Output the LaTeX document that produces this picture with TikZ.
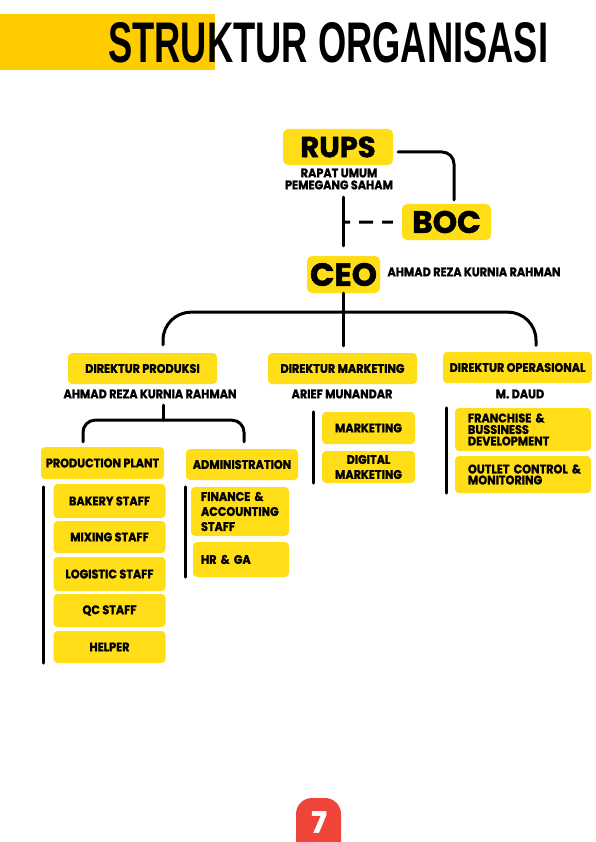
\documentclass[tikz,border=0pt]{standalone}
\usepackage{fontspec}
\usepackage{graphicx}
\setmainfont{Poppins}
\newfontfamily\boxf{Poppins}[FakeStretch=0.9, FakeBold=1.2]
\newfontfamily\bigboxf{Poppins}[FakeBold=1.6]
\newfontfamily\titlef{Liberation Sans}
\usetikzlibrary{calc}
\definecolor{ybox}{HTML}{FFDE17}
\definecolor{ytitle}{HTML}{FFCC00}
\definecolor{pagered}{HTML}{EF4438}
\begin{document}
\begin{tikzpicture}[x=1pt,y=-1pt,
  txt/.style={font=\boxf\bfseries\fontsize{12.5}{12}\selectfont},
  box/.style={txt, fill=ybox, rounded corners=4pt, inner sep=0pt, align=center},
  lbox/.style={box, align=left, inner ysep=0pt},
  lbl/.style={txt, inner sep=0pt, align=center},
  bigbox/.style={fill=ybox, rounded corners=5pt, inner sep=0pt},
  conn/.style={line width=3pt, line cap=round},
  side/.style={line width=3pt, line cap=round},
]
\useasboundingbox (0,0) rectangle (595,842);

% title
\fill[ytitle] (0,14) rectangle (215,70);
\node[anchor=base west, inner sep=0pt, font=\titlef\bfseries] (title) at (108,63) {\resizebox{440pt}{40pt}{STRUKTUR ORGANISASI}};

% top level
\node[bigbox, minimum width=110pt, minimum height=36pt, font=\bigboxf\bfseries\fontsize{29}{29}\selectfont] (rups) at (338,147) {RUPS};
\node[lbl] (rupssub) at (339,179) {RAPAT UMUM\\PEMEGANG SAHAM};
\node[bigbox, minimum width=89pt, minimum height=36pt, font=\bigboxf\bfseries\fontsize{31}{31}\selectfont] (boc) at (446.5,222) {BOC};
\node[bigbox, minimum width=73pt, minimum height=37pt, font=\bigboxf\bfseries\fontsize{32}{32}\selectfont] (ceo) at (343.5,274.5) {CEO};
\node[lbl] (ceoname) at (474,272) {AHMAD REZA KURNIA RAHMAN};

% directors
\node[box, minimum width=149pt, minimum height=31pt] (dp) at (142.5,368.5) {DIREKTUR PRODUKSI};
\node[box, minimum width=149pt, minimum height=31pt] (dm) at (342.5,368.5) {DIREKTUR MARKETING};
\node[box, minimum width=149pt, minimum height=31pt] (do) at (517.5,367.5) {DIREKTUR OPERASIONAL};
\node[lbl] (dpname) at (150,394) {AHMAD REZA KURNIA RAHMAN};
\node[lbl] (dmname) at (342,394) {ARIEF MUNANDAR};
\node[lbl] (doname) at (520,394) {M. DAUD};

% produksi
\node[box, minimum width=123pt, minimum height=32pt] (pp) at (102.5,463) {PRODUCTION PLANT};
\node[box, minimum width=112pt, minimum height=31pt] (ad) at (242,464.5) {ADMINISTRATION};
\node[box, minimum width=112pt, minimum height=34pt] (bakery) at (109.5,501) {BAKERY STAFF};
\node[box, minimum width=112pt, minimum height=32pt] (mixing) at (109.5,537) {MIXING STAFF};
\node[box, minimum width=112pt, minimum height=34pt] (logistic) at (109.5,574) {LOGISTIC STAFF};
\node[box, minimum width=112pt, minimum height=33pt] (qc) at (109.5,610.5) {QC STAFF};
\node[box, minimum width=112pt, minimum height=32pt] (helper) at (109.5,647) {HELPER};
\node[lbox, inner xsep=10pt, text width=78pt, minimum height=49pt, font=\boxf\bfseries\fontsize{12.5}{15}\selectfont] (fin) at (240,511.5) {\mbox{FINANCE \&}\\\mbox{ACCOUNTING}\\\mbox{STAFF}};
\node[lbox, inner xsep=8pt, text width=80pt, minimum height=35pt] (hr) at (241,559.5) {\mbox{HR \& GA}};

% marketing
\node[box, minimum width=93pt, minimum height=32pt] (mkt) at (368.5,428) {MARKETING};
\node[box, minimum width=93pt, minimum height=32pt, font=\boxf\bfseries\fontsize{12.5}{15}\selectfont] (dmk) at (368.5,467) {DIGITAL\\MARKETING};

% operasional
\node[lbox, inner xsep=13pt, text width=110pt, minimum height=43pt, font=\boxf\bfseries\fontsize{12.5}{11.5}\selectfont] (fr) at (523,429.5) {\mbox{FRANCHISE \&}\\\mbox{BUSSINESS}\\\mbox{DEVELOPMENT}};
\node[lbox, inner xsep=13pt, text width=110pt, minimum height=37pt, font=\boxf\bfseries\fontsize{12.5}{11}\selectfont] (out) at (523,474.5) {\mbox{OUTLET CONTROL \&}\\\mbox{MONITORING}};

% connectors
\draw[conn, rounded corners=12pt] ($(rups.east)+(5,5)$) -| ($(boc.north)+(7.5,-4)$);
\draw[conn] ($(rups.south)+(5,32)$) -- ($(ceo.north)+(-0.5,-10)$);
\draw[line width=3pt, dash pattern=on 7pt off 9pt on 14pt off 9pt on 11pt] ($(rups.south)+(5,57)$) -- ($(boc.west)+(-9,0)$);
\draw[conn] ($(ceo.south)+(-0.5,0)$) -- ($(dm.north)+(0.5,-7)$);
\draw[conn, rounded corners=28pt] ($(dp.north)+(20.5,-8)$) |- ($(ceo.south)+(-0.5,19)$) -| ($(do.north)+(18.5,-6.5)$);
\draw[conn] ($(dp.south)+(20.5,21)$) -- ($(dp.south)+(20.5,36)$);
\draw[conn, rounded corners=12pt] ($(pp.north)+(-19.5,-5)$) |- ($(dp.south)+(20.5,36)$) -| ($(ad.north)+(2,-7)$);
\draw[side] ($(bakery.north west)+(-9.5,3)$) -- ($(helper.south west)+(-9.5,0)$);
\draw[side] ($(fin.north west)+(-5,0)$) -- ($(hr.south west)+(-7,0)$);
\draw[side] ($(mkt.north west)+(-8,0)$) -- ($(dmk.south west)+(-8,0)$);
\draw[side] ($(fr.north west)+(-8,0)$) -- ($(out.south west)+(-8,0)$);

% page number
\fill[pagered] (296,842) -- (296,814) .. controls (296,805.2) and (303.2,798) .. (312,798) -- (325,798) .. controls (333.8,798) and (341,805.2) .. (341,814) -- (341,842) -- cycle;
\node[inner sep=0pt, text=white, font=\bigboxf\bfseries\fontsize{29}{29}\selectfont] (pnum) at (319,822) {7};
\end{tikzpicture}
\end{document}
